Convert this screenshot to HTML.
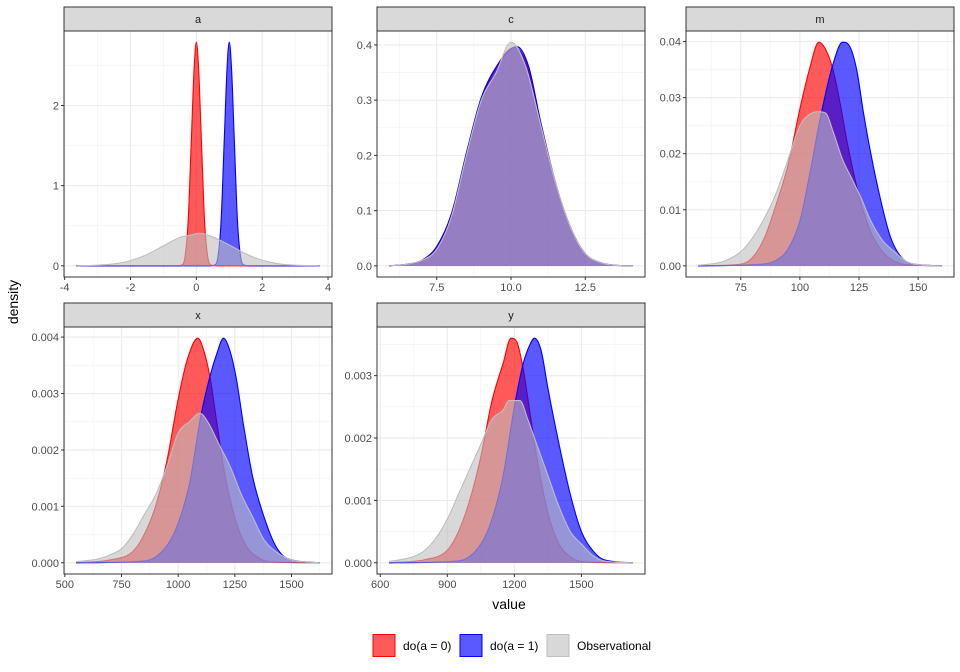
<!DOCTYPE html>
<html><head><meta charset="utf-8"><style>
body{margin:0;background:#fff;}
svg{display:block;font-family:"Liberation Sans",sans-serif;}
</style></head><body>
<svg id="chart" width="960" height="672" xmlns="http://www.w3.org/2000/svg"></svg>
<script>
// ---- data ----
const seriesNames = ["do(a = 0)", "do(a = 1)", "Observational"];
const panelNames = ["a", "c", "m", "x", "y"];

const a_red_x = [-3.65,-0.6,-0.45,-0.35,-0.25,-0.15,-0.07,0,0.07,0.15,0.25,0.35,0.45,0.6,3.75];
const a_red_d = [0,0,0.01,0.1,0.55,1.6,2.45,2.79,2.45,1.6,0.55,0.1,0.01,0,0];
const a_blue_x = [-3.65,0.4,0.55,0.65,0.75,0.85,0.93,1,1.07,1.15,1.25,1.35,1.45,1.6,3.75];
const a_blue_d = [0,0,0.01,0.1,0.55,1.6,2.45,2.79,2.45,1.6,0.55,0.1,0.01,0,0];
const a_obs_x = [-3.65,-3,-2.5,-2,-1.5,-1,-0.5,-0.2,0.1,0.5,1,1.5,2,2.5,3,3.75];
const a_obs_d = [0.001,0.008,0.025,0.065,0.14,0.25,0.355,0.38,0.405,0.36,0.26,0.15,0.07,0.025,0.008,0.001];

const c_red_x = [5.9,6.5,7,7.5,8,8.5,9,9.5,10.1,10.5,11,11.5,12,12.5,13,13.5,14.1];
const c_red_d = [0,0.003,0.01,0.035,0.095,0.2,0.3,0.36,0.395,0.37,0.26,0.15,0.07,0.022,0.006,0.001,0];
const c_blue_x = [5.9,6.5,7,7.5,8,8.5,9,9.5,10.2,10.6,11,11.5,12,12.5,13,13.5,14.1];
const c_blue_d = [0,0.003,0.01,0.035,0.095,0.205,0.305,0.36,0.397,0.36,0.26,0.15,0.07,0.022,0.006,0.001,0];
const c_obs_x = [5.9,6.5,7,7.5,8,8.5,9,9.5,10,10.5,11,11.5,12,12.5,13,13.5,14.1];
const c_obs_d = [0,0.003,0.01,0.03,0.09,0.2,0.3,0.35,0.405,0.36,0.255,0.15,0.07,0.022,0.006,0.001,0];

const m_red_x = [57,75,80,85,90,95,100,104,108,111,114,117,120,125,130,135,140,145,160];
const m_red_d = [0,0.0003,0.0015,0.005,0.011,0.018,0.028,0.035,0.0399,0.0385,0.035,0.029,0.022,0.0125,0.006,0.0025,0.0008,0.0002,0];
const m_blue_x = [57,80,90,95,100,104,108,111,114,118,121,124,127,130,134,138,142,147,160];
const m_blue_d = [0,0.0002,0.001,0.003,0.008,0.016,0.025,0.031,0.036,0.0399,0.0392,0.035,0.027,0.02,0.012,0.0055,0.002,0.0004,0];
const m_obs_x = [57,65,70,75,80,85,90,95,100,104,108,111,114,118,122,126,130,135,140,145,150,160];
const m_obs_d = [0.0001,0.0005,0.0012,0.0025,0.005,0.0085,0.013,0.019,0.025,0.027,0.0275,0.0272,0.024,0.019,0.0155,0.012,0.008,0.0045,0.0025,0.0008,0.0002,0];

const x_red_x = [550,700,800,850,900,950,1000,1040,1087,1110,1140,1170,1200,1250,1300,1350,1400,1625];
const x_red_d = [0,0.00005,0.0002,0.0005,0.001,0.0018,0.0029,0.0036,0.00398,0.0038,0.0033,0.0025,0.0017,0.0008,0.0003,0.0001,0.00002,0];
const x_blue_x = [550,850,950,1000,1050,1100,1140,1170,1200,1225,1255,1290,1330,1380,1430,1480,1625];
const x_blue_d = [0,0.00003,0.0003,0.0007,0.0014,0.0026,0.0033,0.0037,0.00398,0.0038,0.0033,0.0024,0.0015,0.0008,0.0003,0.00008,0];
const x_obs_x = [550,650,700,750,800,850,900,950,1000,1050,1096,1130,1180,1230,1280,1330,1380,1430,1500,1625];
const x_obs_d = [0.00002,0.00007,0.00014,0.00025,0.0005,0.00085,0.0012,0.0017,0.0023,0.0025,0.00265,0.0025,0.0021,0.0017,0.0012,0.0008,0.0004,0.0002,0.00005,0];

const y_red_x = [640,800,900,950,1000,1050,1100,1150,1185,1210,1240,1270,1300,1350,1400,1450,1500,1730];
const y_red_d = [0,0.00005,0.0002,0.0005,0.001,0.0017,0.0026,0.0032,0.0036,0.00355,0.0031,0.0024,0.0017,0.0008,0.0003,0.0001,0.00002,0];
const y_blue_x = [640,950,1050,1100,1150,1200,1240,1270,1290,1320,1350,1400,1450,1500,1550,1600,1730];
const y_blue_d = [0,0.00003,0.0003,0.0007,0.0014,0.0025,0.0032,0.0035,0.0036,0.0034,0.0028,0.0019,0.0011,0.0005,0.0002,0.00005,0];
const y_obs_x = [640,750,800,850,900,950,1000,1050,1100,1150,1175,1225,1260,1300,1350,1400,1450,1500,1550,1600,1730];
const y_obs_d = [0.00002,0.0001,0.0002,0.0004,0.0007,0.0011,0.0015,0.0019,0.0023,0.00245,0.0026,0.0026,0.0023,0.0019,0.0014,0.0009,0.0005,0.0003,0.00012,0.00003,0];

const a_xticks = [-4,-2,0,2,4];
const a_yticks = [0,1,2];
const a_ylabels = ["0","1","2"];
const c_xticks = [7.5,10,12.5];
const c_xlabels = ["7.5","10.0","12.5"];
const c_yticks = [0,0.1,0.2,0.3,0.4];
const c_ylabels = ["0.0","0.1","0.2","0.3","0.4"];
const m_xticks = [75,100,125,150];
const m_yticks = [0,0.01,0.02,0.03,0.04];
const m_ylabels = ["0.00","0.01","0.02","0.03","0.04"];
const x_xticks = [500,750,1000,1250,1500];
const x_yticks = [0,0.001,0.002,0.003,0.004];
const x_ylabels = ["0.000","0.001","0.002","0.003","0.004"];
const y_xticks = [600,900,1200,1500];
const y_yticks = [0,0.001,0.002,0.003];
const y_ylabels = ["0.000","0.001","0.002","0.003"];

// ---- layout ----
const NS = "http://www.w3.org/2000/svg";
const svg = document.getElementById('chart');
function mk(tag, attrs, parent){const e=document.createElementNS(NS,tag);for(const k in attrs)e.setAttribute(k,attrs[k]);(parent||svg).appendChild(e);return e;}

const panels = [
 {name:"a",L:64,T:31,W:268,H:246,series:[[a_red_x,a_red_d],[a_blue_x,a_blue_d],[a_obs_x,a_obs_d]],xt:a_xticks,xl:a_xticks.map(String),yt:a_yticks,yl:a_ylabels},
 {name:"c",L:377,T:31,W:268,H:246,series:[[c_red_x,c_red_d],[c_blue_x,c_blue_d],[c_obs_x,c_obs_d]],xt:c_xticks,xl:c_xlabels,yt:c_yticks,yl:c_ylabels},
 {name:"m",L:686,T:31,W:268,H:246,series:[[m_red_x,m_red_d],[m_blue_x,m_blue_d],[m_obs_x,m_obs_d]],xt:m_xticks,xl:m_xticks.map(String),yt:m_yticks,yl:m_ylabels},
 {name:"x",L:64,T:327,W:268,H:247,series:[[x_red_x,x_red_d],[x_blue_x,x_blue_d],[x_obs_x,x_obs_d]],xt:x_xticks,xl:x_xticks.map(String),yt:x_yticks,yl:x_ylabels},
 {name:"y",L:377,T:327,W:268,H:247,series:[[y_red_x,y_red_d],[y_blue_x,y_blue_d],[y_obs_x,y_obs_d]],xt:y_xticks,xl:y_xticks.map(String),yt:y_yticks,yl:y_ylabels}
];
const fills = ["rgba(255,0,0,0.65)","rgba(0,0,255,0.65)","rgba(190,190,190,0.6)"];
const strokes = ["#FF0000","#0000FF","#BEBEBE"];
const keyNames = ["red","blue","obs"];

function monotonePath(px, py){
 const n=px.length; if(n<2)return "";
 const dx=[],s=[];for(let i=0;i<n-1;i++){dx.push(px[i+1]-px[i]);s.push((py[i+1]-py[i])/dx[i]);}
 const m=[s[0]];for(let i=1;i<n-1;i++){m.push(s[i-1]*s[i]<=0?0:(s[i-1]+s[i])/2);}m.push(s[n-2]);
 for(let i=0;i<n-1;i++){if(s[i]===0){m[i]=0;m[i+1]=0;continue;}const a=m[i]/s[i],b=m[i+1]/s[i],h=a*a+b*b;if(h>9){const t=3/Math.sqrt(h);m[i]=t*a*s[i];m[i+1]=t*b*s[i];}}
 let d="";
 for(let i=0;i<n-1;i++){const h=dx[i];d+=` C${(px[i]+h/3).toFixed(2)},${(py[i]+m[i]*h/3).toFixed(2)} ${(px[i+1]-h/3).toFixed(2)},${(py[i+1]-m[i+1]*h/3).toFixed(2)} ${px[i+1].toFixed(2)},${py[i+1].toFixed(2)}`;}
 return d;
}

panels.forEach(p=>{
 const g=mk('g',{});
 
 
 let xmin=Infinity,xmax=-Infinity,dmax=0;
 p.series.forEach(([xs,ds])=>{xs.forEach(v=>{xmin=Math.min(xmin,v);xmax=Math.max(xmax,v);});ds.forEach(v=>dmax=Math.max(dmax,v));});
 const xr=xmax-xmin, x0=xmin-0.05*xr, x1=xmax+0.05*xr, y0=-0.05*dmax, y1=1.05*dmax;
 const X=v=>p.L+(v-x0)/(x1-x0)*p.W, Y=v=>p.T+p.H-(v-y0)/(y1-y0)*p.H;
 const bg=mk('rect',{x:p.L,y:p.T,width:p.W,height:p.H,fill:'#fff'},g);
 
 
 const step=p.xt[1]-p.xt[0];
 const minorX=[];for(let v=p.xt[0]-step/2;v<=x1;v+=step)if(v>=x0)minorX.push(v);
 const ystep=p.yt[1]-p.yt[0];
 const minorY=[];for(let v=p.yt[0]-ystep/2;v<=y1;v+=ystep)if(v>=y0)minorY.push(v);
 minorX.forEach(v=>{const l=mk('line',{x1:X(v),x2:X(v),y1:p.T,y2:p.T+p.H,stroke:'#F2F2F2','stroke-width':0.6},g);});
 minorY.forEach(v=>{const l=mk('line',{x1:p.L,x2:p.L+p.W,y1:Y(v),y2:Y(v),stroke:'#F2F2F2','stroke-width':0.6},g);});
 p.xt.forEach(v=>{if(v<x0||v>x1)return;const l=mk('line',{x1:X(v),x2:X(v),y1:p.T,y2:p.T+p.H,stroke:'#EBEBEB','stroke-width':1.1},g);});
 p.yt.forEach(v=>{const l=mk('line',{x1:p.L,x2:p.L+p.W,y1:Y(v),y2:Y(v),stroke:'#EBEBEB','stroke-width':1.1},g);});
 p.series.forEach(([xs,ds],i)=>{
  const px=xs.map(X),py=ds.map(Y);
  const curve=monotonePath(px,py);
  const by=Y(0);
  const area=mk('path',{d:`M${px[0]},${by} L${px[0]},${py[0]}`+curve+` L${px[px.length-1]},${by} Z`,fill:fills[i],stroke:'none'},g);
  
  
  const line=mk('path',{d:`M${px[0]},${py[0]}`+curve,fill:'none',stroke:strokes[i],'stroke-width':1.1},g);
  
  
 });
 const br=mk('rect',{x:p.L,y:p.T,width:p.W,height:p.H,fill:'none',stroke:'#333','stroke-width':1},g);
 
 
 const st=mk('rect',{x:p.L,y:p.T-24,width:p.W,height:24,fill:'#D9D9D9',stroke:'#333','stroke-width':1},g);
 
 
 const stt=mk('text',{x:p.L+p.W/2,y:p.T-8,'text-anchor':'middle','font-size':11,fill:'#1A1A1A'},g);
 stt.textContent=p.name;
 
 
 p.xt.forEach((v,i)=>{if(v<x0-1e-9||v>x1+1e-9)return;
  const t=mk('line',{x1:X(v),x2:X(v),y1:p.T+p.H,y2:p.T+p.H+3,stroke:'#333'},g);
  
  const tx=mk('text',{x:X(v),y:p.T+p.H+14,'text-anchor':'middle','font-size':11,fill:'#4D4D4D'},g);
  tx.textContent=p.xl[i];});
 p.yt.forEach((v,i)=>{
  const t=mk('line',{x1:p.L-3,x2:p.L,y1:Y(v),y2:Y(v),stroke:'#333'},g);
  
  const tx=mk('text',{x:p.L-5,y:Y(v)+4,'text-anchor':'end','font-size':11,fill:'#4D4D4D'},g);
  tx.textContent=p.yl[i];});
});

const yt=mk('text',{x:0,y:0,transform:'translate(18,302) rotate(-90)','text-anchor':'middle','font-size':14,fill:'#000'});
yt.textContent='density';


const xt=mk('text',{x:509,y:609,'text-anchor':'middle','font-size':14,fill:'#000'});
xt.textContent='value';



const keyX=[373,460,547];
seriesNames.forEach((nm,i)=>{
 const g=mk('g',{});
 
 
 mk('rect',{x:keyX[i],y:634.5,width:22,height:22,fill:fills[i],stroke:strokes[i],'stroke-width':1},g);
 const t=mk('text',{x:keyX[i]+30,y:650,'font-size':12,fill:'#000'},g);
 t.textContent=nm;
 
 
});
</script>
</body></html>
